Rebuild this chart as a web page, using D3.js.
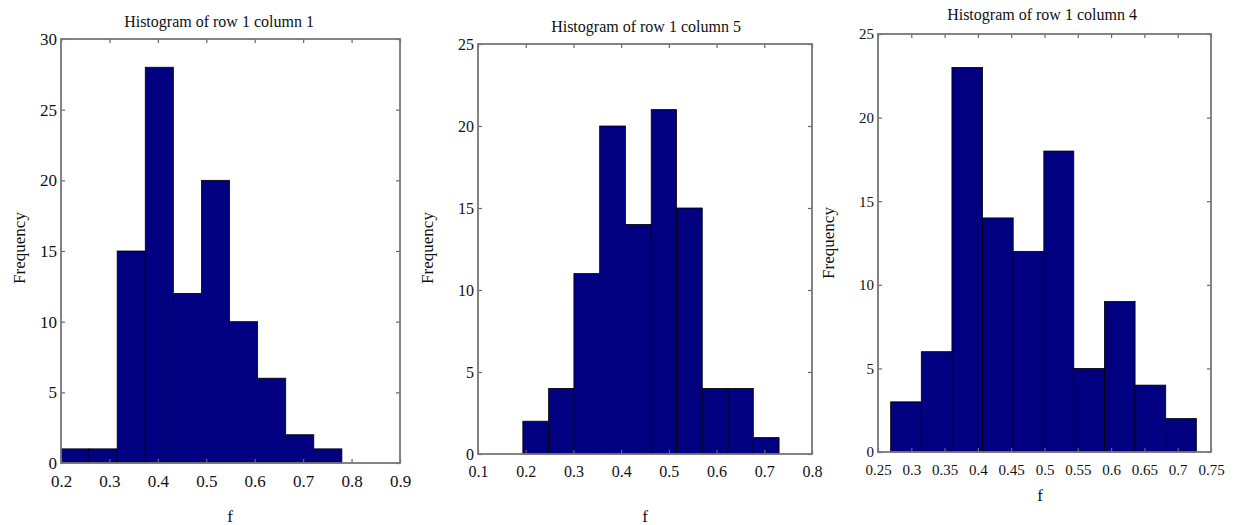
<!DOCTYPE html>
<html>
<head>
<meta charset="utf-8">
<script src="https://cdn.jsdelivr.net/npm/d3@7"></script>
<style>
  body { margin: 0; background: #fff; }
</style>
</head>
<body>
<div id="vis"></div>
<script>
// histogram data: bin edges (in f) and counts per bin
var titles = ["Histogram of row 1 column 1", "Histogram of row 1 column 5", "Histogram of row 1 column 4"];

var edges1 = [0.2, 0.258, 0.316, 0.374, 0.432, 0.49, 0.548, 0.606, 0.664, 0.722, 0.78];
var counts1 = [1, 1, 15, 28, 12, 20, 10, 6, 2, 1];
var xTicks1 = [0.2, 0.3, 0.4, 0.5, 0.6, 0.7, 0.8, 0.9];
var yTicks1 = [0, 5, 10, 15, 20, 25, 30];

var edges2 = [0.194, 0.248, 0.301, 0.355, 0.409, 0.463, 0.516, 0.570, 0.624, 0.677, 0.731];
var counts2 = [2, 4, 11, 20, 14, 21, 15, 4, 4, 1];
var xTicks2 = [0.1, 0.2, 0.3, 0.4, 0.5, 0.6, 0.7, 0.8];
var yTicks2 = [0, 5, 10, 15, 20, 25];

var edges3 = [0.269, 0.315, 0.361, 0.407, 0.453, 0.499, 0.544, 0.590, 0.636, 0.682, 0.728];
var counts3 = [3, 6, 23, 14, 12, 18, 5, 9, 4, 2];
var xTicks3 = [0.25, 0.3, 0.35, 0.4, 0.45, 0.5, 0.55, 0.6, 0.65, 0.7, 0.75];
var yTicks3 = [0, 5, 10, 15, 20, 25];

var serif = '"Liberation Serif", "Times New Roman", serif';

// layout of each panel (pixels)
var panels = [
  {edges: edges1, counts: counts1, xt: xTicks1, yt: yTicks1, title: titles[0],
   left: 61, right: 400, top: 39, bottom: 463, font: 17,
   titleX: 219, titleY: 27, fX: 230, fY: 522, freqX: 19, freqY: 248},
  {edges: edges2, counts: counts2, xt: xTicks2, yt: yTicks2, title: titles[1],
   left: 478, right: 812, top: 44, bottom: 454, font: 16,
   titleX: 646, titleY: 32, fX: 645, fY: 522, freqX: 427, freqY: 248},
  {edges: edges3, counts: counts3, xt: xTicks3, yt: yTicks3, title: titles[2],
   left: 878, right: 1211, top: 34, bottom: 452, font: 15,
   titleX: 1042, titleY: 20, fX: 1040, fY: 501, freqX: 828, freqY: 243}
];

var svg = d3.select("#vis").append("svg")
    .attr("width", 1234)
    .attr("height", 525)
    .attr("font-family", serif);

panels.forEach(function(p) {
    var xScale = d3.scaleLinear()
        .domain(d3.extent(p.xt))
        .range([p.left, p.right]);
    var yScale = d3.scaleLinear()
        .domain(d3.extent(p.yt))
        .range([p.bottom, p.top]);

    var g = svg.append("g");

    //bars
    var bins = p.counts.map(function(c, i) {
        return {x0: p.edges[i], x1: p.edges[i + 1], n: c};
    });
    g.selectAll("rect.bar").data(bins).enter().append("rect")
        .attr("class", "bar")
        .attr("x", function(d) { return xScale(d.x0); })
        .attr("width", function(d) { return xScale(d.x1) - xScale(d.x0); })
        .attr("y", function(d) { return yScale(d.n); })
        .attr("height", function(d) { return yScale(0) - yScale(d.n); })
        .style("fill", "#000080")
        .style("stroke", "#000")
        .style("stroke-width", 0.8);

    // axes, ticks point inwards like matlab
    var fmt = function(d) { return String(d); };
    var bottom = g.append("g")
        .attr("transform", "translate(0," + p.bottom + ")")
        .call(d3.axisBottom(xScale).tickValues(p.xt).tickFormat(fmt).tickSizeInner(-4).tickSizeOuter(0).tickPadding(12));
    var top = g.append("g")
        .attr("transform", "translate(0," + p.top + ")")
        .call(d3.axisTop(xScale).tickValues(p.xt).tickFormat("").tickSizeInner(-4).tickSizeOuter(0));
    var left = g.append("g")
        .attr("transform", "translate(" + p.left + ",0)")
        .call(d3.axisLeft(yScale).tickValues(p.yt).tickFormat(fmt).tickSizeInner(-4).tickSizeOuter(0).tickPadding(4));
    var right = g.append("g")
        .attr("transform", "translate(" + p.right + ",0)")
        .call(d3.axisRight(yScale).tickValues(p.yt).tickFormat("").tickSizeInner(-4).tickSizeOuter(0));

    [bottom, top, left, right].forEach(function(a) {
        a.attr("font-family", serif).attr("font-size", p.font);
        a.select(".domain").remove();
        a.selectAll(".tick line").style("stroke", "#666").style("stroke-width", 1.2);
        a.selectAll("text").style("fill", "#111");
    });

    //frame
    g.append("rect")
        .attr("x", p.left)
        .attr("y", p.top)
        .attr("width", p.right - p.left)
        .attr("height", p.bottom - p.top)
        .style("fill", "none")
        .style("stroke", "#777")
        .style("stroke-width", 1.8);

    // labels
    g.append("text")
        .attr("x", p.titleX)
        .attr("y", p.titleY)
        .attr("text-anchor", "middle")
        .attr("font-size", 16)
        .style("fill", "#111")
        .text(p.title);

    g.append("text")
        .attr("x", p.fX)
        .attr("y", p.fY)
        .attr("text-anchor", "middle")
        .attr("font-size", 17)
        .style("fill", "#111")
        .text("f");

    g.append("text")
        .attr("transform", "translate(" + p.freqX + "," + p.freqY + ") rotate(-90)")
        .attr("text-anchor", "middle")
        .attr("dy", "0.35em")
        .attr("font-size", 17)
        .style("fill", "#111")
        .text("Frequency");
});
</script>
</body>
</html>
